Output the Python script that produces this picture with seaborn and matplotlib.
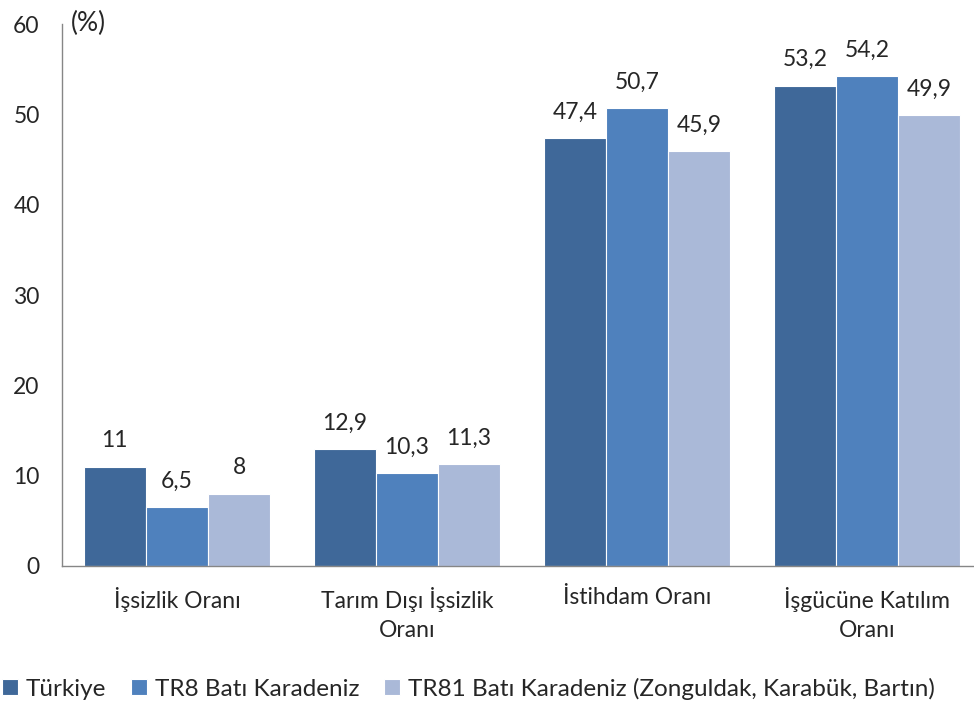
import pandas as pd
import matplotlib.pyplot as plt
import seaborn as sns

# Chart data
categories = ['İşsizlik Oranı', 'Tarım Dışı İşsizlik\nOranı', 'İstihdam Oranı', 'İşgücüne Katılım\nOranı']
series = ['Türkiye', 'TR8 Batı Karadeniz', 'TR81 Batı Karadeniz (Zonguldak, Karabük, Bartın)']
turkiye = [11, 12.9, 47.4, 53.2]
tr8 = [6.5, 10.3, 50.7, 54.2]
tr81 = [8, 11.3, 45.9, 49.9]
colors = ['#3F6899', '#4F81BD', '#AAB9D8']

data = pd.DataFrame({
    'Kategori': categories * 3,
    'Seri': [series[0]] * 4 + [series[1]] * 4 + [series[2]] * 4,
    'Deger': turkiye + tr8 + tr81,
})

sns.set_style('white')
plt.rcParams['font.family'] = ['Lato', 'DejaVu Sans']

fig = plt.figure(figsize=(9.74, 7.09), dpi=100)
ax = fig.add_axes([0.0636, 0.2017, 0.9446, 0.7643])
sns.barplot(data=data, x='Kategori', y='Deger', hue='Seri', palette=colors,
            saturation=1, width=0.81, edgecolor='white', linewidth=0.8,
            ax=ax, legend=True)

for cont in ax.containers:
    labels = [f'{v:g}'.replace('.', ',') for v in cont.datavalues]
    ax.bar_label(cont, labels=labels, padding=11, fontsize=16.5)

ax.set_ylim(0, 60)
ax.set_yticks(range(0, 61, 10))
ax.set_xlabel('')
ax.set_ylabel('')
ax.tick_params(axis='both', labelsize=16.5, length=0)
ax.tick_params(axis='y', pad=16)
ax.tick_params(axis='x', pad=15)
for lbl in ax.get_xticklabels():
    lbl.set_linespacing(1.5)
for s in ['top', 'right']:
    ax.spines[s].set_visible(False)
for s in ['left', 'bottom']:
    ax.spines[s].set_color('#868686')
    ax.spines[s].set_linewidth(1)

fig.text(0.073, 0.967, '(%)', fontsize=19, va='center', ha='left')

ax.legend(loc='center left', bbox_to_anchor=(-0.076, -0.226), ncol=3, frameon=False,
          fontsize=17.5, handlelength=0.65, handleheight=0.65, handletextpad=0.35,
          columnspacing=1.0, borderaxespad=0)

plt.savefig('out.png', dpi=100)
plt.close()
